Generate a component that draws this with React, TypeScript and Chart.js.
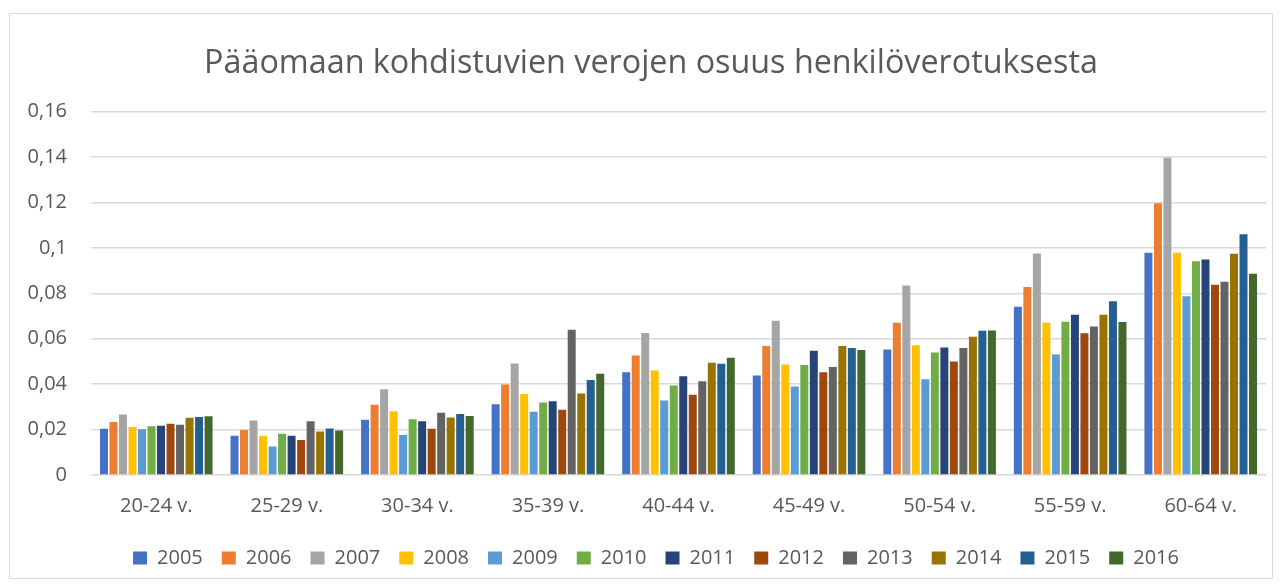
import React, { useEffect, useRef } from "react";
import { Chart, registerables } from "chart.js";

Chart.register(...registerables);

const categories = ["20-24 v.", "25-29 v.", "30-34 v.", "35-39 v.", "40-44 v.", "45-49 v.", "50-54 v.", "55-59 v.", "60-64 v."];
const years = ["2005", "2006", "2007", "2008", "2009", "2010", "2011", "2012", "2013", "2014", "2015", "2016"];
const colors = ["#4472C4", "#ED7D31", "#A5A5A5", "#FFC000", "#5B9BD5", "#70AD47", "#264478", "#9E480E", "#636363", "#997300", "#255E91", "#43682B"];

const v2005 = [0.0204, 0.0173, 0.0243, 0.0312, 0.0453, 0.0438, 0.0553, 0.0741, 0.0979];
const v2006 = [0.0233, 0.0198, 0.0309, 0.0399, 0.0526, 0.0568, 0.0671, 0.0828, 0.1197];
const v2007 = [0.0267, 0.0240, 0.0378, 0.0491, 0.0626, 0.0679, 0.0835, 0.0976, 0.1397];
const v2008 = [0.0211, 0.0173, 0.0281, 0.0357, 0.0460, 0.0487, 0.0572, 0.0671, 0.0979];
const v2009 = [0.0202, 0.0126, 0.0176, 0.0279, 0.0328, 0.0390, 0.0422, 0.0531, 0.0787];
const v2010 = [0.0215, 0.0182, 0.0246, 0.0319, 0.0394, 0.0485, 0.0540, 0.0675, 0.0941];
const v2011 = [0.0217, 0.0173, 0.0237, 0.0325, 0.0435, 0.0547, 0.0562, 0.0706, 0.0949];
const v2012 = [0.0226, 0.0154, 0.0204, 0.0287, 0.0353, 0.0453, 0.0500, 0.0624, 0.0838];
const v2013 = [0.0221, 0.0237, 0.0274, 0.0640, 0.0413, 0.0476, 0.0559, 0.0654, 0.0851];
const v2014 = [0.0252, 0.0192, 0.0253, 0.0359, 0.0494, 0.0568, 0.0609, 0.0706, 0.0975];
const v2015 = [0.0255, 0.0205, 0.0269, 0.0418, 0.0490, 0.0559, 0.0635, 0.0765, 0.1060];
const v2016 = [0.0259, 0.0196, 0.0260, 0.0446, 0.0516, 0.0551, 0.0637, 0.0674, 0.0887];

const seriesValues = [v2005, v2006, v2007, v2008, v2009, v2010, v2011, v2012, v2013, v2014, v2015, v2016];

const titleText = "Pääomaan kohdistuvien verojen osuus henkilöverotuksesta";
const FONT = "'Open Sans', sans-serif";
const TEXT = "#595959";

const shiftBoxes = {
  id: "shiftBoxes",
  afterLayout(chart: any) {
    const lg = chart.legend;
    if (lg) {
      lg.left += 18;
      lg.right += 18;
    }
    const tt = chart.titleBlock;
    if (tt) {
      tt.left += 13;
      tt.right += 13;
    }
  },
};

export default function App() {
  const ref = useRef<HTMLCanvasElement | null>(null);
  useEffect(() => {
    if (!ref.current) return;
    const chart = new Chart(ref.current, {
      type: "bar",
      data: {
        labels: categories,
        datasets: years.map((y, i) => ({
          label: y,
          data: seriesValues[i],
          backgroundColor: colors[i],
          borderWidth: 0,
          categoryPercentage: 0.874,
          barPercentage: 0.84,
        })),
      },
      plugins: [shiftBoxes],
      options: {
        animation: false,
        responsive: true,
        maintainAspectRatio: false,
        layout: { padding: { left: 0, right: 6, top: 30, bottom: 0 } },
        plugins: {
          title: {
            display: true,
            text: titleText,
            color: TEXT,
            font: { family: FONT, size: 32.3, weight: "normal" },
            padding: { top: 0, bottom: 29 },
          },
          legend: {
            position: "bottom",
            labels: {
              color: TEXT,
              font: { family: FONT, size: 20 },
              boxWidth: 14,
              boxHeight: 13,
              padding: 19,
            },
          },
          tooltip: { enabled: false },
        },
        scales: {
          x: {
            grid: { display: false },
            border: { display: false },
            ticks: { color: TEXT, font: { family: FONT, size: 20 }, padding: 11 },
          },
          y: {
            min: 0,
            max: 0.16,
            grid: { color: "#d9d9d9", lineWidth: 1.5, drawTicks: false },
            border: { display: false },
            afterFit: (axis: any) => {
              axis.width = 81;
            },
            ticks: {
              stepSize: 0.02,
              color: TEXT,
              font: { family: FONT, size: 20 },
              padding: 24,
              callback: (v: any) => Number(Number(v).toFixed(2)).toString().replace(".", ","),
            },
          },
        },
      },
    });
    return () => chart.destroy();
  }, []);
  return (
    <div
      style={{
        width: 1264,
        height: 566,
        margin: "5px 0 0 1px",
        border: "1px solid #d9d9d9",
        boxSizing: "border-box",
        position: "relative",
        background: "#fff",
      }}
    >
      <canvas ref={ref} />
    </div>
  );
}
